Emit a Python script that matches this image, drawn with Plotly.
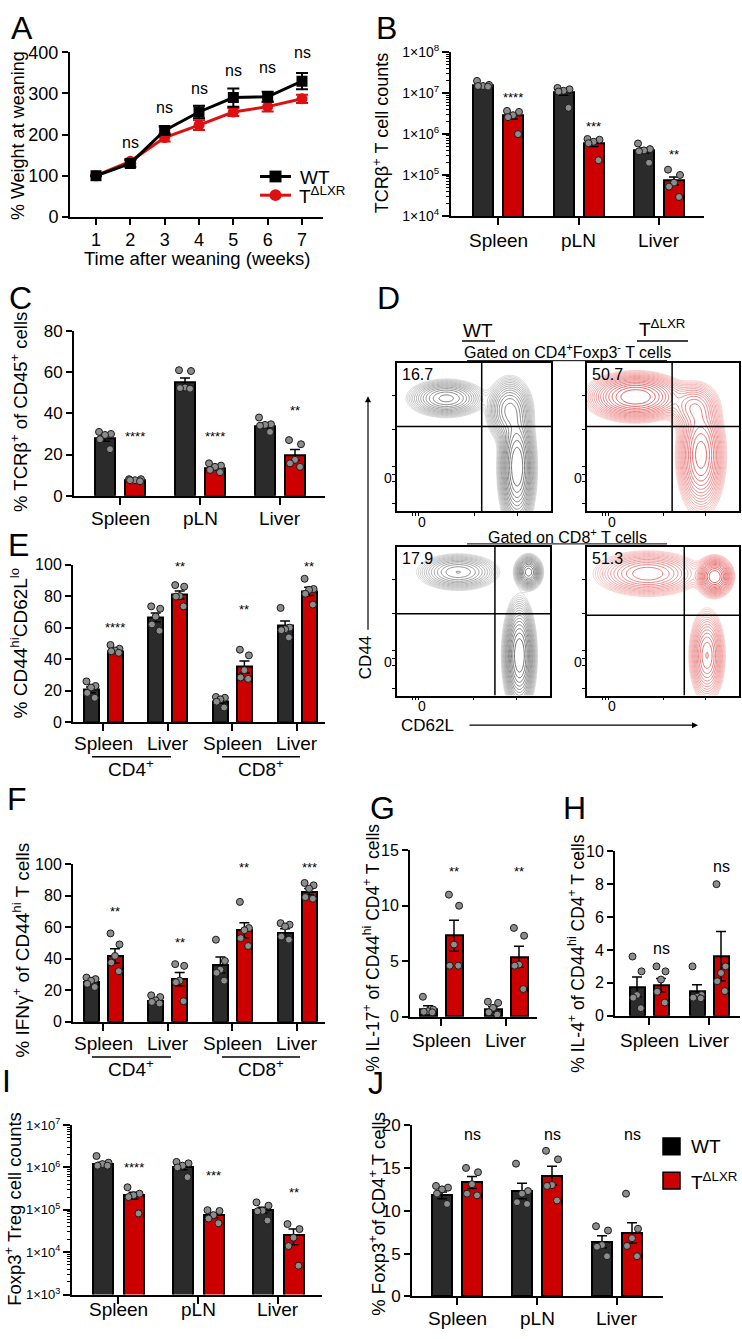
import numpy as np
import plotly.graph_objects as go

W, H = 742, 1339
FONT = "Arial, 'Liberation Sans', sans-serif"
WT_COL = "#2b2b2b"
KO_COL = "#cc0000"
DOT_COL = "#8c8c8c"

# ======================= DATA =======================
# A: % weight at weaning
A_weeks = [1, 2, 3, 4, 5, 6, 7]
A_wt = [100, 130, 210, 255, 290, 292, 330]
A_wt_sem = [0, 8, 10, 15, 22, 12, 20]
A_ko = [100, 135, 193, 223, 255, 268, 287]
A_ko_sem = [0, 5, 10, 12, 10, 12, 10]
A_sig = ["ns", "ns", "ns", "ns", "ns", "ns"]
A_sig_weeks = [2, 3, 4, 5, 6, 7]
A_sig_y = [180, 266, 311, 357, 362, 400]

# B: TCRb+ T cell counts
B_groups = ["Spleen", "pLN", "Liver"]
B_wt = [1.55e7, 1.05e7, 4.0e5]
B_wt_sem = [1.0e6, 1.6e6, 6.0e4]
B_wt_pts = [[2.0e7, 1.6e7, 1.5e7, 1.5e7, 1.45e7],
            [1.35e7, 1.25e7, 1.15e7, 1.1e7, 4.4e6],
            [5.9e5, 4.3e5, 4.0e5, 3.8e5, 2.0e5]]
B_ko = [2.8e6, 5.8e5, 7.3e4]
B_ko_sem = [4.5e5, 8.0e4, 1.6e4]
B_ko_pts = [[3.7e6, 3.5e6, 2.9e6, 2.6e6, 1.0e6],
            [7.6e5, 7.3e5, 6.5e5, 6.0e5, 2.3e5],
            [1.35e5, 1.0e5, 6.5e4, 5.2e4, 2.9e4]]
B_sig = ["****", "***", "**"]
B_sig_y = [8.0e6, 1.5e6, 3.2e5]

# C: % TCRb+ of CD45+
C_groups = ["Spleen", "pLN", "Liver"]
C_wt = [27.8, 55.4, 34.0]
C_wt_sem = [1.3, 1.8, 1.2]
C_wt_pts = [[31, 30, 29.5, 27.4, 22.6], [61, 60.6, 52.6, 52.3, 52], [38, 34.7, 34.4, 34, 31]]
C_ko = [7.6, 13.3, 19.8]
C_ko_sem = [0.3, 0.8, 2.6]
C_ko_pts = [[8, 8, 7.5, 7.5, 7], [15.7, 14.6, 14, 12.5, 11.4], [27, 25, 17.4, 15.7, 14]]
C_sig = ["****", "****", "**"]
C_sig_y = [29, 29, 41.4]

# E: % CD44hi CD62Llo
E_groups = ["Spleen", "Liver", "Spleen", "Liver"]
E_wt = [20.5, 66.5, 13.2, 61.0]
E_wt_sem = [1.8, 2.8, 1.2, 3.2]
E_wt_pts = [[25.9, 23, 22, 18.6, 15.5], [73.5, 72, 67, 62, 58],
            [16, 15.5, 14.5, 13, 9.3], [72.5, 60, 59, 58.4, 53.8]]
E_ko = [45.0, 80.7, 35.0, 83.0]
E_ko_sem = [0.9, 2.5, 3.8, 2.6]
E_ko_pts = [[49, 46.6, 45.5, 45, 44], [87, 86, 80, 79.7, 73.5],
            [46, 42.4, 33, 28.4, 27.5], [91, 84.5, 84, 81.5, 74.6]]
E_sig = ["****", "**", "**", "**"]
E_sig_y = [60, 99, 71.4, 99]

# F: % IFNg+ of CD44hi T cells
F_groups = ["Spleen", "Liver", "Spleen", "Liver"]
F_wt = [25.0, 13.0, 36.0, 56.5]
F_wt_sem = [1.2, 1.0, 5.0, 2.4]
F_wt_pts = [[28, 27, 26, 24, 22], [16.7, 15.6, 13.5, 12.5, 11.5],
            [52, 38.5, 33, 31, 26], [62.5, 61.5, 60.4, 54, 52]]
F_ko = [41.7, 27.0, 58.0, 82.5]
F_ko_sem = [4.5, 4.2, 4.8, 2.0]
F_ko_pts = [[56, 49, 41.7, 37.5, 32], [36.5, 35.4, 26, 25, 13],
            [76, 59.4, 58, 53, 48], [88, 86.5, 84.4, 79, 78]]
F_sig = ["**", "**", "**", "***"]
F_sig_y = [70, 50.4, 98, 98]

# G: % IL-17+ of CD44hi CD4+ T cells
G_groups = ["Spleen", "Liver"]
G_wt = [0.7, 0.65]
G_wt_sem = [0.3, 0.25]
G_wt_pts = [[1.8, 0.65, 0.5, 0.45, 0.4], [1.35, 1.25, 0.8, 0.4, 0.2]]
G_ko = [7.3, 5.4]
G_ko_sem = [1.4, 0.95]
G_ko_pts = [[11, 10, 6.5, 4.6, 4.6], [8, 7.3, 4.7, 4.6, 2.5]]
G_sig = ["**", "**"]
G_sig_y = [13.1, 13.1]

# H: % IL-4+ of CD44hi CD4+ T cells
H_groups = ["Spleen", "Liver"]
H_wt = [1.76, 1.5]
H_wt_sem = [0.6, 0.38]
H_wt_pts = [[3.6, 2.7, 1.26, 1.1, 0.46], [3.0, 1.26, 1.16, 1.1, 1.06]]
H_ko = [1.86, 3.62]
H_ko_sem = [0.4, 1.5]
H_ko_pts = [[3.0, 2.7, 2.2, 1.46, 0.8], [8.0, 3.0, 2.6, 2.1, 1.5]]
H_sig = ["ns", "ns"]
H_sig_y = [4.06, 9.06]

# I: Foxp3+ Treg cell counts
I_groups = ["Spleen", "pLN", "Liver"]
I_wt = [1.2e6, 1.0e6, 1.0e5]
I_wt_sem = [1.2e5, 1.2e5, 1.5e4]
I_wt_pts = [[1.86e6, 1.3e6, 1.2e6, 1.1e6, 1.1e6],
            [1.35e6, 1.25e6, 1.1e6, 1.0e6, 5.9e5],
            [1.5e5, 1.25e5, 9.5e4, 9.2e4, 5.6e4]]
I_ko = [2.2e5, 7.5e4, 2.5e4]
I_ko_sem = [4.0e4, 1.0e4, 1.0e4]
I_ko_pts = [[3.4e5, 2.4e5, 2.2e5, 2.0e5, 8.2e4],
            [9.8e4, 9.4e4, 7.5e4, 6.2e4, 4.8e4],
            [4.6e4, 3.5e4, 2.2e4, 1.4e4, 4.8e3]]
I_sig = ["****", "***", "**"]
I_sig_y = [1.0e6, 6.4e5, 2.6e5]

# J: % Foxp3+ of CD4+ T cells
J_groups = ["Spleen", "pLN", "Liver"]
J_wt = [11.8, 12.3, 6.4]
J_wt_sem = [0.4, 0.9, 0.7]
J_wt_pts = [[12.9, 12.7, 12.5, 12, 10.8], [15.5, 12.3, 12, 11, 10.8], [8.2, 7.7, 6, 5.8, 4.7]]
J_ko = [13.3, 14.1, 7.4]
J_ko_sem = [0.7, 1.1, 1.2]
J_ko_pts = [[15, 14.5, 13.1, 12, 11.8], [17, 16, 13, 12.9, 11.2], [12, 7.9, 6.8, 5.9, 4.7]]
J_sig = ["ns", "ns", "ns"]
J_sig_y = [18.9, 18.9, 18.9]

# D: flow populations (CD62L, CD44 in box units): cx, cy, sx, sy, weight
D_pops = {
    "wt_cd4": [(0.32, 0.76, 0.10, 0.05, 0.17), (0.78, 0.30, 0.045, 0.16, 0.65), (0.73, 0.68, 0.06, 0.09, 0.18)],
    "ko_cd4": [(0.32, 0.77, 0.12, 0.06, 0.50), (0.75, 0.38, 0.06, 0.15, 0.42), (0.70, 0.70, 0.07, 0.07, 0.08)],
    "wt_cd8": [(0.40, 0.83, 0.11, 0.05, 0.18), (0.86, 0.83, 0.035, 0.045, 0.13), (0.80, 0.27, 0.04, 0.14, 0.69)],
    "ko_cd8": [(0.40, 0.82, 0.14, 0.06, 0.38), (0.84, 0.80, 0.045, 0.05, 0.30), (0.79, 0.27, 0.045, 0.12, 0.32)],
}
D_gates = {"wt_cd4": (0.55, 0.57), "ko_cd4": (0.56, 0.57), "wt_cd8": (0.64, 0.55), "ko_cd8": (0.64, 0.54)}
D_pct = {"wt_cd4": "16.7", "ko_cd4": "50.7", "wt_cd8": "17.9", "ko_cd8": "51.3"}

# ======================= HELPERS =======================
fig = go.Figure()
layout = {}
annotations = []
shapes = []


def px_x(a, b):
    return [a / W, b / W]


def px_y(top, bot):
    return [1 - bot / H, 1 - top / H]


def ann(text, x, y, size, **kw):
    d = dict(text=text, x=x / W, y=1 - y / H, xref="paper", yref="paper", showarrow=False,
             font=dict(size=size, family=FONT, color="black"), xanchor="center", yanchor="middle")
    d.update(kw)
    annotations.append(d)


def line_px(x0, y0, x1, y1, w=1.5, color="black"):
    shapes.append(dict(type="line", xref="paper", yref="paper", x0=x0 / W, x1=x1 / W,
                       y0=1 - y0 / H, y1=1 - y1 / H, line=dict(color=color, width=w)))


def axname(n):
    return ("xaxis" if n == 1 else f"xaxis{n}"), ("yaxis" if n == 1 else f"yaxis{n}"), \
        ("x" if n == 1 else f"x{n}"), ("y" if n == 1 else f"y{n}")


AXBASE = dict(showline=True, linecolor="black", linewidth=2, ticks="outside", ticklen=6,
              tickwidth=2, tickcolor="black", showgrid=False, zeroline=False,
              tickfont=dict(size=16, family=FONT, color="black"))

JIT = [-0.3, 0.3, 0.0, -0.25, 0.25]


def bar_panel(n, xpx, ypx, g0, sp, off, bw, groups, wt, wt_sem, wt_pts, ko, ko_sem, ko_pts,
              sig, sig_y, yrange, label_y, ylog=False, yticks=None, ytext=None, yfont=16, xfont=19, sigfont=13):
    xk, yk, xr, yr = axname(n)
    o = off / sp
    w = bw / sp
    xrng = [(xpx[0] - g0) / sp, (xpx[1] - g0) / sp]
    pos = list(range(len(groups)))
    for vals, sems, pts, col, sgn in [(wt, wt_sem, wt_pts, WT_COL, -1), (ko, ko_sem, ko_pts, KO_COL, 1)]:
        xs = [p + sgn * o for p in pos]
        fig.add_trace(go.Bar(x=xs, y=vals, width=w, marker=dict(color=col, line=dict(color="black", width=2)),
                             error_y=dict(type="data", array=sems, color="black", thickness=1.5, width=5),
                             xaxis=xr, yaxis=yr, showlegend=False))
        dx, dy = [], []
        for xi, pl in zip(xs, pts):
            for j, v in enumerate(pl):
                dx.append(xi + JIT[j % len(JIT)] * w)
                dy.append(v)
        fig.add_trace(go.Scatter(x=dx, y=dy, mode="markers",
                                 marker=dict(color=DOT_COL, size=7, line=dict(color="#1a1a1a", width=1)),
                                 xaxis=xr, yaxis=yr, showlegend=False, cliponaxis=False))
    for p, s, v in zip(pos, sig, sig_y):
        annotations.append(dict(text=s, x=p + o, y=(np.log10(v) if ylog else v), xref=xr, yref=yr,
                                showarrow=False, font=dict(size=sigfont, family=FONT, color="black"),
                                xanchor="center", yanchor="middle"))
    # category labels
    for p, g in zip(pos, groups):
        annotations.append(dict(text=g, x=p, y=1 - label_y / H, xref=xr, yref="paper", showarrow=False,
                                font=dict(size=xfont, family=FONT, color="black"),
                                xanchor="center", yanchor="middle"))
    xa = dict(AXBASE, domain=px_x(*xpx), range=xrng, anchor=yr, tickvals=pos, showticklabels=False, ticklen=7)
    ya = dict(AXBASE, domain=px_y(*ypx), anchor=xr, tickfont=dict(size=yfont, family=FONT, color="black"))
    if ylog:
        ya.update(type="log", range=yrange, tickvals=yticks, ticktext=ytext, ticklen=7,
                  minor=dict(ticks="outside", ticklen=3, tickwidth=1, tickcolor="black",
                             tickmode="array",
                             tickvals=[m * 10 ** d for d in range(int(yrange[0]), int(yrange[1])) for m in range(2, 10)]))
    else:
        ya.update(range=yrange, tickvals=yticks)
    layout[xk] = xa
    layout[yk] = ya


# ======================= PANEL A =======================
for name, vals, sems, col, sym in [("T<sup>ΔLXR</sup>", A_ko, A_ko_sem, "#dd1111", "circle"),
                                   ("WT", A_wt, A_wt_sem, "black", "square")]:
    fig.add_trace(go.Scatter(x=A_weeks, y=vals, name=name, mode="lines+markers",
                             line=dict(color=col, width=3), marker=dict(symbol=sym, size=11, color=col),
                             error_y=dict(type="data", array=sems, color=col, thickness=2, width=6),
                             xaxis="x", yaxis="y", showlegend=False))
sp_a = (302 - 96) / 6
layout["xaxis"] = dict(AXBASE, domain=px_x(70, 323), range=[1 - (96 - 70) / sp_a, 7 + (323 - 302) / sp_a],
                       anchor="y", tickvals=A_weeks, tickfont=dict(size=18, family=FONT, color="black"))
layout["yaxis"] = dict(AXBASE, domain=px_y(43, 210), range=[0, 400], anchor="x",
                       tickvals=[0, 100, 200, 300, 400], tickfont=dict(size=18, family=FONT, color="black"))
for wk, s, v in zip(A_sig_weeks, A_sig, A_sig_y):
    annotations.append(dict(text=s, x=wk, y=v, xref="x", yref="y", showarrow=False,
                            font=dict(size=16, family=FONT, color="black")))
ann("Time after weaning (weeks)", 197, 252, 18.5)
ann("% Weight at weaning", 18, 128, 18, textangle=-90)
# A legend (drawn)
line_px(260, 169, 291, 169, w=3)
shapes.append(dict(type="rect", xref="paper", yref="paper", x0=269.5 / W, x1=281.5 / W,
                   y0=1 - 175 / H, y1=1 - 163 / H, fillcolor="black", line=dict(width=0)))
ann("WT", 298, 170, 19, xanchor="left")
line_px(260, 188, 291, 188, w=3, color="#dd1111")
shapes.append(dict(type="circle", xref="paper", yref="paper", x0=269.5 / W, x1=281.5 / W,
                   y0=1 - 194 / H, y1=1 - 182 / H, fillcolor="#dd1111", line=dict(width=0)))
ann("T<sup>ΔLXR</sup>", 297, 188, 19, xanchor="left")

# ======================= PANEL B =======================
logticks_B = [1e4, 1e5, 1e6, 1e7, 1e8]
bar_panel(2, (451, 704), (43, 209), 498, 80.5, 15, 20, B_groups, B_wt, B_wt_sem, B_wt_pts,
          B_ko, B_ko_sem, B_ko_pts, B_sig, B_sig_y, [4, 8], 234, ylog=True, yticks=logticks_B,
          ytext=[f"1×10<sup>{k}</sup>" for k in range(4, 9)], yfont=14)
ann("TCRβ<sup>+</sup> T cell counts", 381, 125, 18, textangle=-90)

# ======================= PANEL C =======================
bar_panel(3, (74, 325), (326, 493), 120, 80, 15, 20, C_groups, C_wt, C_wt_sem, C_wt_pts,
          C_ko, C_ko_sem, C_ko_pts, C_sig, C_sig_y, [0, 80], 516, yticks=[0, 20, 40, 60, 80], yfont=17)
ann("% TCRβ<sup>+</sup> of CD45<sup>+</sup> cells", 19, 408, 18.5, textangle=-90)

# ======================= PANEL E =======================
bar_panel(4, (73, 325), (563, 723), 103, 64.7, 12, 15, E_groups, E_wt, E_wt_sem, E_wt_pts,
          E_ko, E_ko_sem, E_ko_pts, E_sig, E_sig_y, [0, 100], 745, yticks=[0, 20, 40, 60, 80, 100])
ann("% CD44<sup>hi</sup>CD62L<sup>lo</sup>", 19, 643, 19, textangle=-90)
line_px(92, 758, 171, 758)
line_px(222, 758, 300, 758)
ann("CD4<sup>+</sup>", 131, 770, 19)
ann("CD8<sup>+</sup>", 261, 770, 19)

# ======================= PANEL F =======================
bar_panel(5, (73, 325), (867, 1027), 103, 64.7, 12, 15, F_groups, F_wt, F_wt_sem, F_wt_pts,
          F_ko, F_ko_sem, F_ko_pts, F_sig, F_sig_y, [0, 100], 1049, yticks=[0, 20, 40, 60, 80, 100])
ann("% IFNγ<sup>+</sup> of CD44<sup>hi</sup> T cells", 21, 955, 19, textangle=-90)
line_px(92, 1063, 171, 1063)
line_px(222, 1063, 300, 1063)
ann("CD4<sup>+</sup>", 131, 1074, 19)
ann("CD8<sup>+</sup>", 261, 1074, 19)

# ======================= PANEL G =======================
bar_panel(6, (410, 537), (853, 1022), 441, 65, 13, 17, G_groups, G_wt, G_wt_sem, G_wt_pts,
          G_ko, G_ko_sem, G_ko_pts, G_sig, G_sig_y, [0, 15], 1046, yticks=[0, 5, 10, 15])
ann("% IL-17<sup>+</sup> of CD44<sup>hi</sup> CD4<sup>+</sup> T cells", 371, 952, 17.5, textangle=-90)

# ======================= PANEL H =======================
bar_panel(7, (615, 740), (854, 1021), 649, 60, 12, 15, H_groups, H_wt, H_wt_sem, H_wt_pts,
          H_ko, H_ko_sem, H_ko_pts, H_sig, H_sig_y, [0, 10], 1046, yticks=[0, 2, 4, 6, 8, 10], sigfont=16)
ann("% IL-4<sup>+</sup> of CD44<sup>hi</sup> CD4<sup>+</sup> T cells", 576, 958, 17.5, textangle=-90)

# ======================= PANEL I =======================
bar_panel(8, (72, 322), (1132, 1304), 118, 80, 15.5, 20, I_groups, I_wt, I_wt_sem, I_wt_pts,
          I_ko, I_ko_sem, I_ko_pts, I_sig, I_sig_y, [3, 7], 1319, ylog=True,
          yticks=[1e3, 1e4, 1e5, 1e6, 1e7], ytext=[f"1×10<sup>{k}</sup>" for k in range(3, 8)], yfont=13)
ann("Foxp3<sup>+</sup> Treg cell counts", 13, 1217, 18.5, textangle=-90)

# ======================= PANEL J =======================
bar_panel(9, (412, 663), (1132, 1306), 457, 80, 15, 20, J_groups, J_wt, J_wt_sem, J_wt_pts,
          J_ko, J_ko_sem, J_ko_pts, J_sig, J_sig_y, [0, 20], 1328, yticks=[0, 5, 10, 15, 20], yfont=17, sigfont=16)
ann("% Foxp3<sup>+</sup>of CD4<sup>+</sup> T cells", 377, 1222, 18.5, textangle=-90)
# J legend
for (y0, col, txt) in [(1145, "black", "WT"), (1180, KO_COL, "T<sup>ΔLXR</sup>")]:
    shapes.append(dict(type="rect", xref="paper", yref="paper", x0=663 / W, x1=680 / W,
                       y0=1 - (y0 + 17) / H, y1=1 - y0 / H, fillcolor=col, line=dict(color="black", width=1.5)))
    ann(txt, 689, y0 + 9, 19, xanchor="left")

# ======================= PANEL D (flow) =======================
grid = np.linspace(0, 1, 121)
GX, GY = np.meshgrid(grid, grid)
flow_boxes = {"wt_cd4": (10, (397, 551), (358, 509), ("#d0d0d0", "#4a4a4a")),
              "ko_cd4": (11, (587, 739), (358, 509), ("#f7c4c4", "#dd3030")),
              "wt_cd8": (12, (397, 550), (545, 696), ("#d0d0d0", "#4a4a4a")),
              "ko_cd8": (13, (587, 739), (545, 696), ("#f7c4c4", "#dd3030"))}
for key, (n, xpx, ypx, cols) in flow_boxes.items():
    xk, yk, xr, yr = axname(n)
    Z = np.zeros_like(GX)
    for cx, cy, sx, sy, wgt in D_pops[key]:
        Z += wgt / (sx * sy) * np.exp(-((GX - cx) ** 2 / (2 * sx ** 2) + (GY - cy) ** 2 / (2 * sy ** 2)))
    L = np.log10(Z + 1e-3)
    mx = float(L.max())
    fig.add_trace(go.Contour(x=grid, y=grid, z=L, xaxis=xr, yaxis=yr, showscale=False,
                             contours=dict(coloring="lines", start=mx - 1.9, end=mx - 0.05, size=0.11),
                             line=dict(width=0.8), colorscale=[[0, cols[0]], [1, cols[1]]], hoverinfo="skip"))
    layout[xk] = dict(domain=px_x(*xpx), range=[0, 1], anchor=yr, showline=True, mirror=True,
                      linecolor="black", linewidth=1.5, showgrid=False, zeroline=False,
                      ticks="outside", ticklen=3, tickwidth=1, tickcolor="black",
                      tickvals=[0.1, 0.12, 0.14, 0.5, 0.78], showticklabels=False)
    layout[yk] = dict(domain=px_y(*ypx), range=[0, 1], anchor=xr, showline=True, mirror=True,
                      linecolor="black", linewidth=1.5, showgrid=False, zeroline=False,
                      ticks="outside", ticklen=3, tickwidth=1, tickcolor="black",
                      tickvals=[0.05, 0.2, 0.25, 0.3, 0.55, 0.78], showticklabels=False)
    gx, gy = D_gates[key]
    shapes.append(dict(type="line", xref=xr, yref=yr, x0=gx, x1=gx, y0=0, y1=1, line=dict(color="black", width=1.5)))
    shapes.append(dict(type="line", xref=xr, yref=yr, x0=0, x1=1, y0=gy, y1=gy, line=dict(color="black", width=1.5)))
    ann(D_pct[key], xpx[0] + 20, ypx[0] + 12, 16)
    ann("0", xpx[0] - 9, ypx[0] + 117, 14)
    ann("0", xpx[0] + 25, ypx[1] + 11, 14)

ann("WT", 478, 325, 19)
line_px(462, 336, 495, 336)
ann("T<sup>ΔLXR</sup>", 662, 323, 19)
line_px(637, 336, 688, 336)
ann("Gated on CD4<sup>+</sup>Foxp3<sup>-</sup> T cells", 567, 346, 16)
line_px(467, 356, 667, 356, w=1)
ann("Gated on CD8<sup>+</sup> T cells", 567, 534, 16)
line_px(467, 542, 667, 542, w=1)
annotations.append(dict(x=368 / W, y=1 - 392 / H, xref="paper", yref="paper", ax=0, ay=235,
                        showarrow=True, arrowhead=2, arrowsize=1, arrowwidth=1.2, arrowcolor="black", text=""))
annotations.append(dict(x=698 / W, y=1 - 726 / H, xref="paper", yref="paper", ax=-230, ay=0,
                        showarrow=True, arrowhead=2, arrowsize=1, arrowwidth=1.2, arrowcolor="black", text=""))
ann("CD44", 365, 658, 17, textangle=-90)
ann("CD62L", 427, 726, 17)

# ======================= PANEL LETTERS =======================
for letter, x, y in [("A", 22, 18), ("B", 386, 18), ("C", 20, 292), ("D", 388, 292), ("E", 18, 543),
                     ("F", 17, 801), ("G", 383, 810), ("H", 574, 810), ("I", 6, 1087), ("J", 376, 1089)]:
    ann(letter, x, y, 32)

fig.update_layout(**layout)
fig.update_layout(width=W, height=H, margin=dict(l=0, r=0, t=0, b=0), plot_bgcolor="white",
                  paper_bgcolor="white", annotations=annotations, shapes=shapes, bargap=0,
                  barmode="overlay", font=dict(family=FONT, color="black"), showlegend=False)
fig.write_html("out.html", config={"displayModeBar": False})

# remove default page margins so the figure sits at the window origin
with open("out.html", "r", encoding="utf-8") as fh:
    html = fh.read()
html = html.replace("<head>", "<head><style>html,body{margin:0;padding:0;overflow:hidden;}</style>", 1)
with open("out.html", "w", encoding="utf-8") as fh:
    fh.write(html)
